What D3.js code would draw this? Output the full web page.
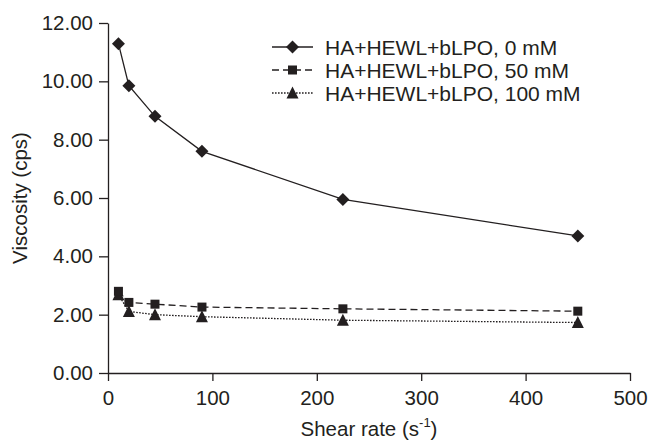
<!DOCTYPE html>
<html>
<head>
<meta charset="utf-8">
<script src="https://cdn.jsdelivr.net/npm/d3@7"></script>
<style>
  body { margin: 0; background: #fff; }
  text { font-family: "Liberation Sans", Arial, sans-serif; fill: #231f20; }
</style>
</head>
<body>
<div id="chart"></div>
<script>
// shear rate (s^-1) and viscosity (cps) for each series
var shearRate = [10, 20, 45, 90, 225, 450];
var visc0   = [11.29, 9.85, 8.80, 7.60, 5.95, 4.70];
var visc50  = [2.80, 2.42, 2.36, 2.26, 2.20, 2.12];
var visc100 = [2.68, 2.11, 2.00, 1.93, 1.81, 1.73];
var seriesNames = ["HA+HEWL+bLPO, 0 mM", "HA+HEWL+bLPO, 50 mM", "HA+HEWL+bLPO, 100 mM"];
var xTicks = [0, 100, 200, 300, 400, 500];
var yTicks = [0, 2, 4, 6, 8, 10, 12];

var width = 650, height = 440;
var ink = "#231f20";

var svg = d3.select("#chart").append("svg")
    .attr("width", width)
    .attr("height", height);

var xScale = d3.scaleLinear().domain([0, 500]).range([108, 630]);
var yScale = d3.scaleLinear().domain([0, 12]).range([373, 23]);

// axes
var xAxis = d3.axisBottom(xScale).tickValues(xTicks).tickSize(8).tickPadding(9).tickSizeOuter(0);
var yAxis = d3.axisLeft(yScale).tickValues(yTicks).tickSize(9).tickPadding(6).tickSizeOuter(0)
    .tickFormat(d3.format(".2f"));

var gx = svg.append("g")
    .attr("transform", "translate(0," + yScale(0) + ")")
    .call(xAxis);
var gy = svg.append("g")
    .attr("transform", "translate(" + xScale(0) + ",0)")
    .call(yAxis);

[gx, gy].forEach(function(g) {
    g.selectAll("path, line").attr("stroke", ink).attr("stroke-width", 1.3);
    g.selectAll("text").style("font-size", "20.5px").attr("fill", ink);
});

// axis titles
svg.append("text")
    .attr("x", (xScale(0) + xScale(500)) / 2)
    .attr("y", 436)
    .attr("text-anchor", "middle")
    .style("font-size", "20.5px")
    .html('Shear rate (s<tspan dy="-9" font-size="13px">-1</tspan><tspan dy="9">)</tspan>');

svg.append("text")
    .attr("transform", "translate(27," + yScale(6) + ") rotate(-90)")
    .attr("text-anchor", "middle")
    .style("font-size", "20.5px")
    .text("Viscosity (cps)");

// series
var series = [
    {name: seriesNames[0], values: visc0,   dash: null,    shape: "diamond"},
    {name: seriesNames[1], values: visc50,  dash: "7,4",   shape: "square"},
    {name: seriesNames[2], values: visc100, dash: "1.6,1.4", shape: "triangle"}
];

function marker(g, shape, cx, cy) {
    if (shape === "diamond") {
        var r = 6.5;
        g.append("polygon")
            .attr("points", [[cx, cy - r], [cx + r, cy], [cx, cy + r], [cx - r, cy]].join(" "))
            .attr("fill", ink);
    } else if (shape === "square") {
        var s = 9;
        g.append("rect")
            .attr("x", cx - s / 2).attr("y", cy - s / 2)
            .attr("width", s).attr("height", s)
            .attr("fill", ink);
    } else {
        var h = 5.5;
        g.append("polygon")
            .attr("points", [[cx, cy - h - 1], [cx + h + 0.5, cy + h], [cx - h - 0.5, cy + h]].join(" "))
            .attr("fill", ink);
    }
}

var line = d3.line()
    .x(function(d) { return xScale(d[0]); })
    .y(function(d) { return yScale(d[1]); });

series.slice().reverse().forEach(function(s) {
    var pts = shearRate.map(function(x, i) { return [x, s.values[i]]; });
    svg.append("path")
        .attr("d", line(pts))
        .attr("fill", "none")
        .attr("stroke", ink)
        .attr("stroke-width", 1.3)
        .attr("stroke-dasharray", s.dash);
    var g = svg.append("g");
    pts.forEach(function(p) {
        marker(g, s.shape, xScale(p[0]), yScale(p[1]));
    });
});

// legend
var legend = svg.append("g");
series.forEach(function(s, i) {
    var y = 47 + i * 23;
    legend.append("line")
        .attr("x1", 272).attr("x2", 313)
        .attr("y1", y).attr("y2", y)
        .attr("stroke", ink)
        .attr("stroke-width", 1.3)
        .attr("stroke-dasharray", s.dash);
    marker(legend, s.shape, 292.5, y);
    legend.append("text")
        .attr("x", 325)
        .attr("y", y + 7.5)
        .style("font-size", "21px")
        .text(s.name);
});
</script>
</body>
</html>
